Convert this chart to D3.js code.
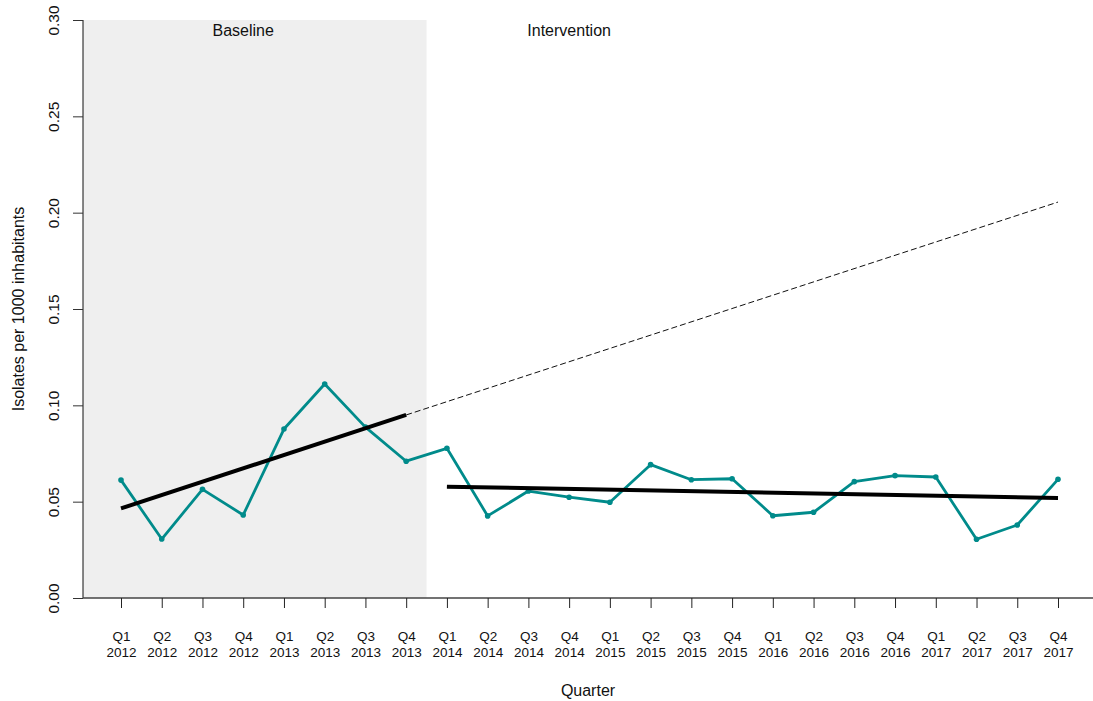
<!DOCTYPE html>
<html>
<head>
<meta charset="utf-8">
<script src="https://cdn.jsdelivr.net/npm/d3@7"></script>
<style>
  html, body { margin: 0; padding: 0; background: #fff; }
  svg { display: block; }
  text { font-family: "Liberation Sans", Arial, Helvetica, sans-serif; fill: #111; }
</style>
</head>
<body>
<svg id="chart" width="1093" height="701"></svg>
<script>
// ---- data ----
const quarters = ["Q1","Q2","Q3","Q4","Q1","Q2","Q3","Q4","Q1","Q2","Q3","Q4","Q1","Q2","Q3","Q4","Q1","Q2","Q3","Q4","Q1","Q2","Q3","Q4"];
const years = ["2012","2012","2012","2012","2013","2013","2013","2013","2014","2014","2014","2014","2015","2015","2015","2015","2016","2016","2016","2016","2017","2017","2017","2017"];
const isolates = [0.0612, 0.0306, 0.0564, 0.0431, 0.0877, 0.1111, 0.0887, 0.0710, 0.0777, 0.0426, 0.0555, 0.0523, 0.0497, 0.0692, 0.0614, 0.0619, 0.0427, 0.0445, 0.0604, 0.0635, 0.0628, 0.0305, 0.0379, 0.0616];
const baselineTrend = [ {i: 0, v: 0.0465}, {i: 7, v: 0.0950} ];
const counterfactual = [ {i: 7, v: 0.0950}, {i: 23, v: 0.2055} ];
const interventionTrend = [ {i: 8, v: 0.0578}, {i: 23, v: 0.0519} ];
const yTicks = [0, 0.05, 0.10, 0.15, 0.20, 0.25, 0.30];
const phaseLabels = [ {i: 3, text: "Baseline"}, {i: 11, text: "Intervention"} ];
const baselineEnd = 7.5;

// ---- layout ----
const svg = d3.select("#chart");
const mLeft = 83, mRight = 1093, mTop = 20, mBottom = 598;
const x = d3.scaleLinear().domain([0, 23]).range([121, 1058]);
const y = d3.scaleLinear().domain([0, 0.30]).range([mBottom, mTop]);
const xMin = x.invert(mLeft);

// baseline shading
svg.append("rect")
  .attr("x", x(xMin)).attr("y", y(0.30))
  .attr("width", x(baselineEnd) - x(xMin))
  .attr("height", y(0) - y(0.30))
  .attr("fill", "#efefef");

// phase labels
svg.selectAll("text.phase").data(phaseLabels).enter().append("text")
  .attr("class", "phase")
  .attr("x", d => x(d.i)).attr("y", 36)
  .attr("text-anchor", "middle")
  .attr("font-size", 16)
  .text(d => d.text);

// y axis
const yAxis = d3.axisLeft(y).tickValues(yTicks).tickFormat(d3.format(".2f")).tickSize(10).tickPadding(6);
const gy = svg.append("g").attr("transform", `translate(${mLeft},0)`).call(yAxis);
gy.select(".domain").attr("stroke", "#111").attr("d", `M0,${mTop}V${mBottom}`);
gy.selectAll(".tick line").attr("stroke", "#333");
gy.selectAll(".tick text")
  .attr("font-size", 15.5)
  .attr("font-family", "Liberation Sans, Arial, sans-serif")
  .attr("fill", "#111")
  .attr("x", null)
  .attr("text-anchor", "middle")
  .attr("transform", "translate(-29,0) rotate(-90)")
  .attr("dy", "0.35em");

// x axis
const xAxis = d3.axisBottom(x).tickValues(d3.range(24)).tickSize(10).tickFormat("");
const gx = svg.append("g").attr("transform", `translate(0,${mBottom})`).call(xAxis);
gx.select(".domain").attr("stroke", "#444").attr("stroke-width", 1.5).attr("d", `M${mLeft},0H${mRight}`);
gx.selectAll(".tick line").attr("stroke", "#222");
gx.selectAll(".tick").each(function(d) {
  const t = d3.select(this).append("text")
    .attr("text-anchor", "middle")
    .attr("font-size", 13.5)
    .attr("fill", "#111");
  t.append("tspan").attr("x", 0).attr("y", 43).text(quarters[d]);
  t.append("tspan").attr("x", 0).attr("y", 59).text(years[d]);
});

// axis titles
svg.append("text")
  .attr("x", (mLeft + mRight) / 2).attr("y", 696)
  .attr("text-anchor", "middle").attr("font-size", 16)
  .text("Quarter");
svg.append("text")
  .attr("transform", `translate(24,${(mTop + mBottom) / 2}) rotate(-90)`)
  .attr("text-anchor", "middle").attr("font-size", 16)
  .text("Isolates per 1000 inhabitants");

// data series
const line = d3.line().x((d, i) => x(i)).y(d => y(d));
svg.append("path").datum(isolates)
  .attr("d", line)
  .attr("fill", "none").attr("stroke", "#008b8b")
  .attr("stroke-width", 2.8).attr("stroke-linejoin", "round");
svg.selectAll("circle.pt").data(isolates).enter().append("circle")
  .attr("class", "pt")
  .attr("cx", (d, i) => x(i)).attr("cy", d => y(d))
  .attr("r", 2.8).attr("fill", "#008b8b");

// trend lines
const tline = d3.line().x(d => x(d.i)).y(d => y(d.v));
svg.append("path").datum(counterfactual)
  .attr("d", tline).attr("fill", "none")
  .attr("stroke", "#111").attr("stroke-width", 1).attr("stroke-dasharray", "6,3");
svg.append("path").datum(baselineTrend)
  .attr("d", tline).attr("fill", "none")
  .attr("stroke", "#000").attr("stroke-width", 4);
svg.append("path").datum(interventionTrend)
  .attr("d", tline).attr("fill", "none")
  .attr("stroke", "#000").attr("stroke-width", 4);
</script>
</body>
</html>
